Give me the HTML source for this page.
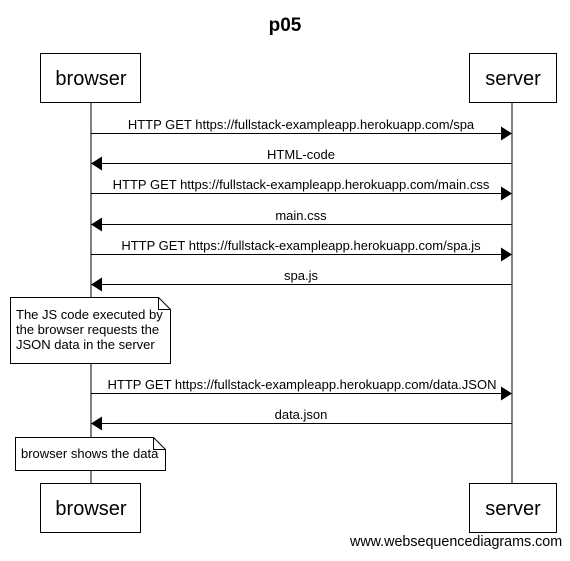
<!DOCTYPE html>
<html><head><style>
body{margin:0;background:#fff}
svg text{font-family:"Liberation Sans",sans-serif}
</style></head><body>
<svg width="570" height="556" viewBox="0 0 570 556" xmlns="http://www.w3.org/2000/svg">
<text x="285" y="31" font-size="19" font-weight="bold" text-anchor="middle">p05</text>
<g stroke="#000" stroke-width="1" fill="none">
<line x1="91" y1="103" x2="91" y2="483"/>
<line x1="512" y1="103" x2="512" y2="483"/>
<rect x="40.5" y="53.5" width="100" height="49" fill="#fff"/>
<rect x="469.5" y="53.5" width="87" height="49" fill="#fff"/>
<rect x="40.5" y="483.5" width="100" height="49" fill="#fff"/>
<rect x="469.5" y="483.5" width="87" height="49" fill="#fff"/>
<line x1="91" y1="133.5" x2="502" y2="133.5"/>
<line x1="101" y1="163.5" x2="512" y2="163.5"/>
<line x1="91" y1="193.5" x2="502" y2="193.5"/>
<line x1="101" y1="224.5" x2="512" y2="224.5"/>
<line x1="91" y1="254.5" x2="502" y2="254.5"/>
<line x1="101" y1="284.5" x2="512" y2="284.5"/>
<line x1="91" y1="393.5" x2="502" y2="393.5"/>
<line x1="101" y1="423.5" x2="512" y2="423.5"/>
<path d="M10.5 297.5H158.5L170.5 309.5V363.5H10.5Z" fill="#fff"/>
<path d="M158.5 297.5V309.5H170.5"/>
<path d="M15.5 437.5H153.5L165.5 449.5V470.5H15.5Z" fill="#fff"/>
<path d="M153.5 437.5V449.5H165.5"/>
</g>
<g fill="#000">
<path d="M512 133.5L501 126.5V140.5Z"/>
<path d="M91 163.5L102 156.5V170.5Z"/>
<path d="M512 193.5L501 186.5V200.5Z"/>
<path d="M91 224.5L102 217.5V231.5Z"/>
<path d="M512 254.5L501 247.5V261.5Z"/>
<path d="M91 284.5L102 277.5V291.5Z"/>
<path d="M512 393.5L501 386.5V400.5Z"/>
<path d="M91 423.5L102 416.5V430.5Z"/>
</g>
<g font-size="20" text-anchor="middle">
<text x="91" y="85">browser</text>
<text x="513" y="85">server</text>
<text x="91" y="515">browser</text>
<text x="513" y="515">server</text>
</g>
<g font-size="13" text-anchor="middle">
<text x="301" y="129">HTTP GET https://fullstack-exampleapp.herokuapp.com/spa</text>
<text x="301" y="159">HTML-code</text>
<text x="301" y="189">HTTP GET https://fullstack-exampleapp.herokuapp.com/main.css</text>
<text x="301" y="220">main.css</text>
<text x="301" y="250">HTTP GET https://fullstack-exampleapp.herokuapp.com/spa.js</text>
<text x="301" y="280">spa.js</text>
<text x="302" y="389">HTTP GET https://fullstack-exampleapp.herokuapp.com/data.JSON</text>
<text x="301" y="419">data.json</text>
</g>
<g font-size="13">
<text x="16" y="319">The JS code executed by</text>
<text x="16" y="334">the browser requests the</text>
<text x="16" y="349">JSON data in the server</text>
<text x="21" y="458">browser shows the data</text>
<text x="350" y="546" font-size="14.3">www.websequencediagrams.com</text>
</g>
</svg>
</body></html>
